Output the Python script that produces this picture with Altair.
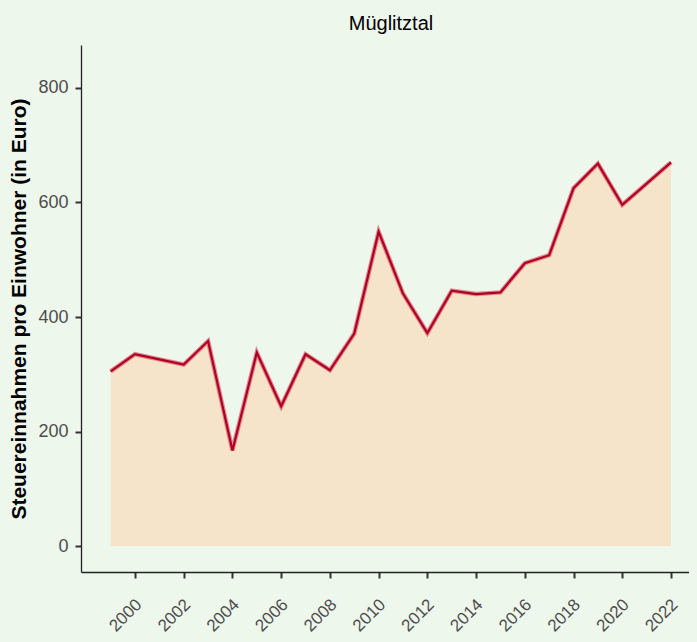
import altair as alt
import pandas as pd

years = list(range(1999, 2023))
values = [305, 335, 326, 317, 358, 167, 338, 244, 335, 307, 371, 549,
          441, 372, 446, 440, 443, 494, 508, 625, 668, 596, 633, 670]

x_ticks = list(range(2000, 2023, 2))
y_ticks = [0, 200, 400, 600, 800]

df = pd.DataFrame({"Jahr": years, "Wert": values})

FONT = "Liberation Sans"
BG = "#EDF7EC"

x_enc = alt.X(
    "Jahr:Q",
    scale=alt.Scale(domain=[1997.784, 2022.739], nice=False, zero=False),
    axis=alt.Axis(
        values=x_ticks, format="d", title=None, grid=False,
        labelAngle=-45, labelAlign="right", labelBaseline="top",
        labelPadding=18, labelOffset=-2, labelFontSize=17, labelColor="#4D4D4D",
        labelFont=FONT,
        domainColor="#222222", domainWidth=1.3, tickColor="#333333",
        tickWidth=2, tickSize=6, labelFlush=False, labelOverlap=False,
    ),
)
y_scale = alt.Scale(domain=[-45.4, 875.1], nice=False, zero=False)
y_enc = alt.Y(
    "Wert:Q",
    scale=y_scale,
    axis=alt.Axis(
        values=y_ticks, title="Steuereinnahmen pro Einwohner (in Euro)",
        grid=False, labelFontSize=18, labelColor="#4D4D4D", labelFont=FONT,
        labelPadding=7, domainColor="#222222", domainWidth=1.3,
        tickColor="#333333", tickWidth=2, tickSize=6,
        titleFont=FONT, titleFontSize=21, titleFontWeight="bold", titleColor="black",
        titleX=-62, titleY=263.5, titleAngle=-90, titleBaseline="middle",
        titleAlign="center",
    ),
    stack=None,
)

base = alt.Chart(df)
area = base.mark_area(color="#F5E3CA", opacity=1).encode(
    x=x_enc, y=y_enc, y2=alt.datum(0)
)
halo = base.mark_line(color="#D9707F", strokeWidth=4.5, opacity=0.8).encode(
    x="Jahr:Q", y="Wert:Q"
)
line = base.mark_line(color="#B0001F", strokeWidth=2.2).encode(
    x="Jahr:Q", y="Wert:Q"
)

chart = alt.layer(area, halo, line).properties(
    width=608,
    height=527,
    autosize=alt.AutoSizeParams(type="none"),
    padding={"left": 73, "top": 37, "right": 0, "bottom": 62},
    background=BG,
    title=alt.TitleParams(
        "Müglitztal", anchor="middle", fontSize=20, font=FONT,
        fontWeight="normal", color="black", baseline="alphabetic",
        offset=15, dx=6, dy=20,
    ),
).configure_view(stroke=None)

chart.save(
    "out.html",
    embed_options={
        "renderer": "svg",
        "actions": False,
        "defaultStyle": "body{background:#EDF7EC;}",
    },
)
